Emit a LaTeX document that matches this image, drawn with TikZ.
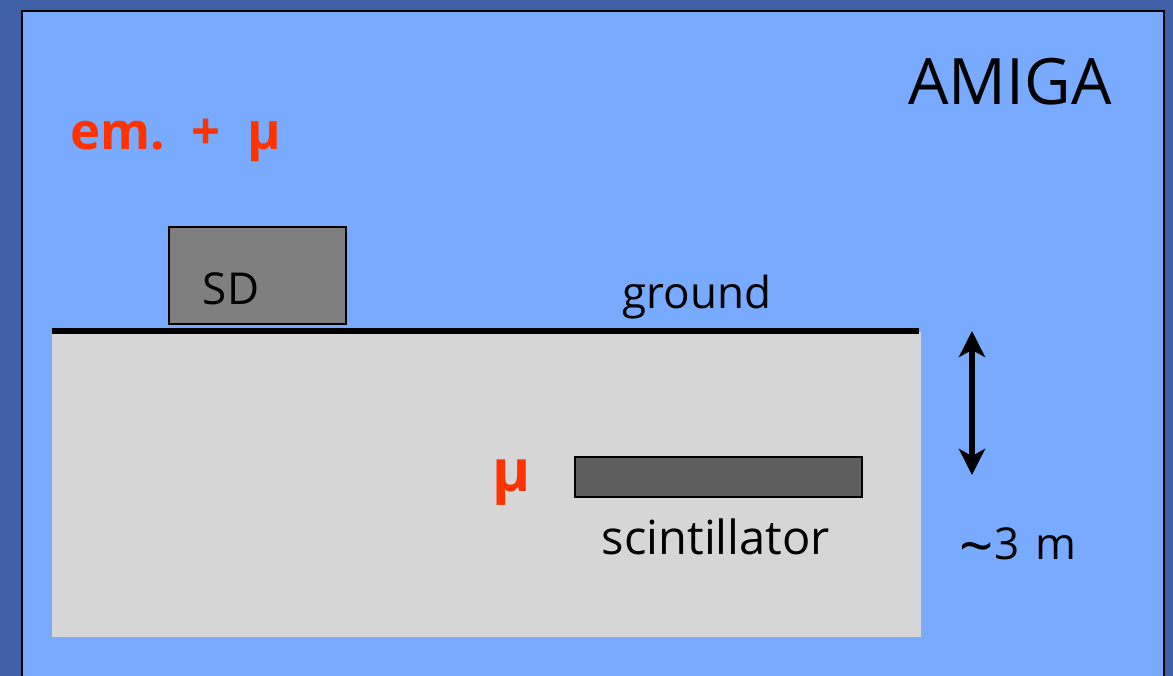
\documentclass[tikz,border=0pt]{standalone}
\usepackage{fontspec}
\setmainfont{Open Sans}
\usetikzlibrary{arrows.meta}
\definecolor{outerblue}{HTML}{4060A8}
\definecolor{panelblue}{HTML}{78AAFF}
\definecolor{soil}{HTML}{D6D6D6}
\definecolor{sdgray}{HTML}{7F7F7F}
\definecolor{scigray}{HTML}{5E5E5E}
\definecolor{redtxt}{HTML}{FF3300}
\tikzset{
  lbl/.style={font=\fontsize{44}{48}\selectfont, text=black, inner sep=0pt},
  redlbl/.style={font=\fontsize{51}{55}\selectfont\bfseries, text=redtxt, inner sep=0pt},
  boxstyle/.style={draw=black, line width=1.8pt},
}
\begin{document}
\begin{tikzpicture}[x=1pt,y=-1pt]
\useasboundingbox (0,0) rectangle (1173,676);
\fill[outerblue] (0,0) rectangle (1173,676);
\draw[fill=panelblue, line width=2.5pt] (22,11) rectangle (1164,690);
\fill[soil] (52,332) rectangle (921,637);
\node[boxstyle, fill=sdgray, minimum width=177pt, minimum height=97pt, anchor=north west, inner sep=0pt] (sd) at (168,226) {};
\node[lbl] (sdl) at (231,289) {SD};
\draw[line width=6pt] (52,331) -- (919,331) coordinate (gend);
\node[lbl] (ground) at (697,297) {ground};
\node[boxstyle, fill=scigray, minimum width=287pt, minimum height=40pt, anchor=north west, inner sep=0pt] (sci) at (574,456) {};
\node[lbl, font=\fontsize{47}{50}\selectfont] (scil) at (716,537) {scintillator};
\node[redlbl, font=\fontsize{58}{60}\selectfont\bfseries] (mu) at (512,483) {μ};
\node[redlbl] (em) at (176,140) {em.\ \ +\ \ μ};
\node[font=\fontsize{64}{68}\selectfont, inner sep=0pt] (amiga) at (1010,82) {AMIGA};
\coordinate (atop) at (972,331);
\coordinate (abot) at (972,475);
\draw[line width=5.5pt, {Stealth[width=26pt,length=26pt,inset=7pt]}-{Stealth[width=26pt,length=26pt,inset=7pt]}] (atop) -- (abot);
\node[lbl] (dist) at (1018,548) {\raisebox{-8pt}{\fontsize{60}{60}\selectfont\textasciitilde}3\hspace{16pt}m};
\end{tikzpicture}
\end{document}
